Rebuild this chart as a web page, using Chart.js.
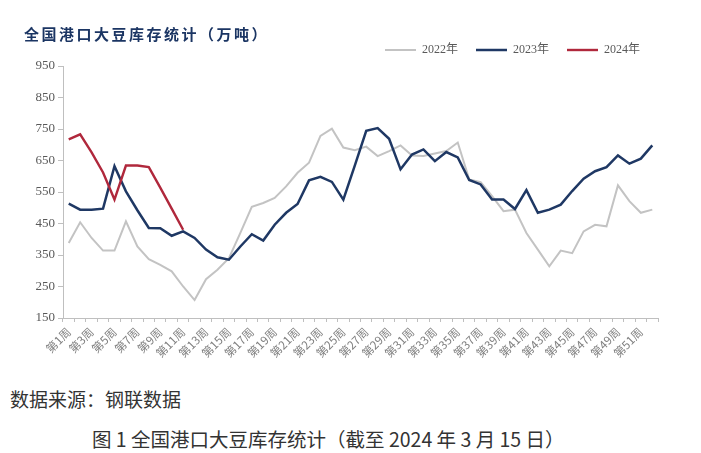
<!DOCTYPE html>
<html>
<head>
<meta charset="utf-8">
<script src="https://cdn.jsdelivr.net/npm/chart.js@4.4.1/dist/chart.umd.min.js"></script>
<style>
  body { margin: 0; background: #fff; }
  #wrap { position: relative; width: 701px; height: 453px; overflow: hidden; background: #fff; }
  #box { position: absolute; left: 0; top: 0; width: 701px; height: 375px; }
  #title { position: absolute; left: 24px; top: 23px; font: bold 15px "Noto Sans CJK SC", sans-serif; letter-spacing: 2.5px; color: #1b3563; }
  #src { position: absolute; left: 10px; top: 385px; font: 19px "Noto Sans CJK SC", sans-serif; color: #333; }
  #cap { position: absolute; left: 92px; top: 424px; font: 19.5px "Noto Sans CJK SC", sans-serif; color: #333; white-space: nowrap; }
</style>
</head>
<body>
<div id="wrap">
  <div id="box"><canvas id="chart" width="701" height="375"></canvas></div>
  <div id="title">全国港口大豆库存统计（万吨）</div>
  <div id="src">数据来源：钢联数据</div>
  <div id="cap">图 1 全国港口大豆库存统计（截至 2024 年 3 月 15 日）</div>
</div>
<script>
// 周次
var weeks = [];
for (var i = 1; i <= 52; i++) weeks.push('第' + i + '周');

var seriesNames = ['2022年', '2023年', '2024年'];

// 万吨
var stock2022 = [388, 454, 404, 364, 364, 457, 377, 337, 319, 298,
                 250, 207, 273, 303, 340, 420, 503, 515, 531, 568,
                 611, 643, 728, 751, 691, 683, 694, 664, 680, 698,
                 666, 664, 672, 680, 707, 590, 581, 537, 489, 494,
                 420, 367, 314, 364, 356, 425, 446, 441, 571, 521,
                 484, 494];
var stock2023 = [513, 494, 494, 497, 632, 552, 492, 436, 435, 411,
                 425, 404, 367, 343, 335, 377, 416, 396, 446, 484,
                 512, 587, 598, 582, 526, 634, 744, 753, 719, 622,
                 669, 685, 648, 677, 660, 588, 574, 526, 526, 496,
                 556, 484, 494, 510, 553, 592, 616, 629, 666, 640,
                 656, 698];
var stock2024 = [717, 733, 676, 612, 526, 634, 634, 629, 564, 497, 430];

var yTicks = [150, 250, 350, 450, 550, 650, 750, 850, 950];

var axisColor = '#bfbfbf';

new Chart(document.getElementById('chart'), {
  type: 'line',
  data: {
    labels: weeks,
    datasets: [
      { label: seriesNames[0], data: stock2022, borderColor: '#c3c3c3', backgroundColor: '#c3c3c3', borderWidth: 2, order: 3 },
      { label: seriesNames[1], data: stock2023, borderColor: '#1f3864', backgroundColor: '#1f3864', borderWidth: 2.5, order: 2 },
      { label: seriesNames[2], data: stock2024, borderColor: '#b0283c', backgroundColor: '#b0283c', borderWidth: 2.4, order: 1 }
    ]
  },
  options: {
    responsive: false,
    animation: false,
    layout: { padding: { left: 0, right: 43, top: 26, bottom: 0 } },
    elements: {
      point: { radius: 0 },
      line: { tension: 0 }
    },
    plugins: {
      title: { display: false },
      tooltip: { enabled: false },
      legend: {
        position: 'top',
        align: 'end',
        labels: {
          usePointStyle: true,
          pointStyle: 'line',
          pointStyleWidth: 31,
          padding: 18,
          color: '#595959',
          font: { family: '"Liberation Serif", "Noto Sans CJK SC"', size: 12 },
          sort: function(a, b) { return a.datasetIndex - b.datasetIndex; }
        }
      }
    },
    scales: {
      x: {
        offset: true,
        grid: { offset: true, drawOnChartArea: false, drawTicks: true, tickLength: 4, color: axisColor },
        border: { color: axisColor },
        ticks: {
          autoSkip: false,
          minRotation: 45,
          maxRotation: 45,
          padding: 3,
          color: '#7f7f7f',
          font: { family: '"Noto Sans CJK SC"', size: 11.5 },
          callback: function(v, idx) { return idx % 2 === 0 ? weeks[idx] : ''; }
        },
        afterFit: function(s) { s.height = 57; }
      },
      y: {
        min: 150,
        max: 950,
        grid: { drawOnChartArea: false, drawTicks: true, tickLength: 5, color: axisColor },
        border: { color: axisColor },
        afterBuildTicks: function(s) { s.ticks = yTicks.map(function(v) { return { value: v }; }); },
        ticks: {
          padding: 3,
          color: '#595959',
          font: { family: '"Liberation Serif"', size: 13 }
        },
        afterFit: function(s) { s.width = 63; }
      }
    }
  }
});
</script>
</body>
</html>
